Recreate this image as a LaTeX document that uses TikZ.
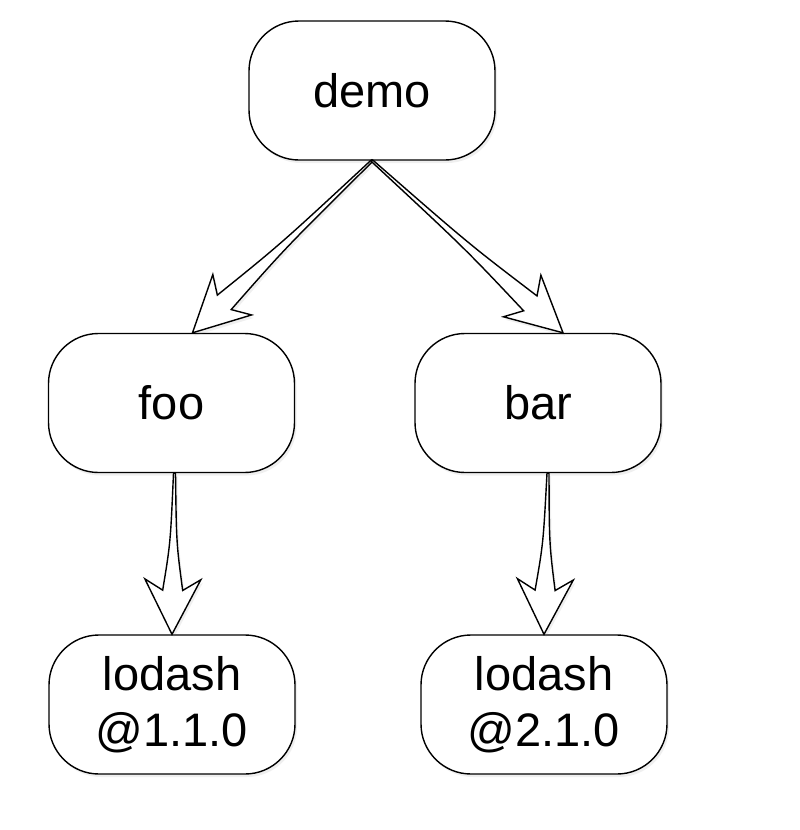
\documentclass[tikz,border=0pt]{standalone}
\usepackage{fontspec}
\setmainfont{Liberation Sans}
\usepackage{tikz}
\usetikzlibrary{calc,shadows}

\tikzset{
  pkg/.style={draw, line width=1.4pt, fill=white, rounded corners=50pt,
    minimum width=246pt, minimum height=139pt, inner sep=0pt, align=center,
    font=\fontsize{47}{56}\selectfont,
    drop shadow={opacity=0.12, shadow xshift=2pt, shadow yshift=-3pt}},
  flexbody/.style={draw, line width=1.4pt, fill=white, line join=miter,
    drop shadow={opacity=0.12, shadow xshift=2pt, shadow yshift=-3pt}}
}

% hollow tapered arrow: #1 start, #2 tip
\newcommand{\flexarrow}[2]{
\coordinate (fa-s) at (#1);
\coordinate (fa-t) at (#2);
\coordinate (fa-b) at ($(fa-t)!55pt!(fa-s)$);
\coordinate (fa-n) at ($(fa-t)!44pt!(fa-s)$);
\coordinate (fa-c) at ($(fa-s)!0.6!(fa-n)$);
\coordinate (fa-sl) at ($(fa-s)!1pt!-90:(fa-t)$);
\coordinate (fa-sr) at ($(fa-s)!1pt!90:(fa-t)$);
\coordinate (fa-cl) at ($(fa-c)!3pt!-90:(fa-t)$);
\coordinate (fa-cr) at ($(fa-c)!3pt!90:(fa-t)$);
\coordinate (fa-nl) at ($(fa-n)!10pt!90:(fa-s)$);
\coordinate (fa-nr) at ($(fa-n)!10pt!-90:(fa-s)$);
\coordinate (fa-bl) at ($(fa-b)!28pt!90:(fa-s)$);
\coordinate (fa-br) at ($(fa-b)!28pt!-90:(fa-s)$);
\filldraw[flexbody] (fa-sl) .. controls (fa-cl) .. (fa-nl) -- (fa-bl) -- (fa-t)
  -- (fa-br) -- (fa-nr) .. controls (fa-cr) .. (fa-sr) -- cycle;
}

\begin{document}
\begin{tikzpicture}[x=1pt,y=-1pt]
\useasboundingbox (0,0) rectangle (800,830);
\fill[white] (0,0) rectangle (800,830);

\node[pkg] (demo) at (372,90.5) {demo};
\node[pkg] (foo) at (171.5,403) {foo};
\node[pkg] (bar) at (538,403) {bar};
\node[pkg] (lodashA) at (172,704.5) {lodash\\@1.1.0};
\node[pkg] (lodashB) at (544,704.5) {lodash\\@2.1.0};

\flexarrow{demo.south}{[xshift=21pt]foo.north}
\flexarrow{demo.south}{[xshift=25pt]bar.north}
\flexarrow{[xshift=3pt]foo.south}{lodashA.north}
\flexarrow{[xshift=10pt]bar.south}{lodashB.north}
\end{tikzpicture}
\end{document}
